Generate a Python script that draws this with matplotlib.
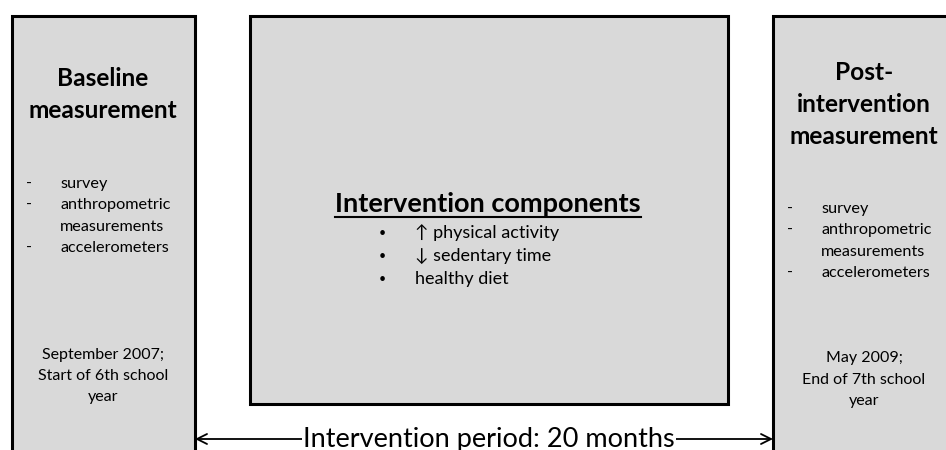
import matplotlib.pyplot as plt
from matplotlib.patches import Rectangle

plt.rcParams['font.family'] = ['Lato', 'DejaVu Sans']

# Box contents
left_title = ['Baseline', 'measurement']
right_title = ['Post-', 'intervention', 'measurement']
measures = ['survey', 'anthropometric', 'measurements', 'accelerometers']
measure_dash = [True, True, False, True]
left_when = ['September 2007;', 'Start of 6th school', 'year']
right_when = ['May 2009;', 'End of 7th school', 'year']
mid_title = 'Intervention components'
components = ['\u2191 physical activity', '\u2193 sedentary time', 'healthy diet']
period_label = 'Intervention period: 20 months'

W, H = 946, 450
fig = plt.figure(figsize=(W / 100, H / 100), dpi=100)
ax = fig.add_axes([0, 0, 1, 1])
ax.set_xlim(0, W)
ax.set_ylim(H, 0)
ax.axis('off')

grey = '#d9d9d9'
# boxes: x0, y0, x1, y1
boxes = [(12, 16, 195, 470), (250, 16, 728, 404), (773, 16, 980, 470)]
for x0, y0, x1, y1 in boxes:
    ax.add_patch(Rectangle((x0, y0), x1 - x0, y1 - y0, facecolor=grey,
                           edgecolor='black', lw=2.2))

def column(cx, ytop, lines, dy, size, bold=False):
    for i, s in enumerate(lines):
        ax.text(cx, ytop + i * dy, s, ha='center', va='center', fontsize=size,
                fontweight='bold' if bold else 'normal', color='black')

def dash_list(xd, xt, ytop, dy):
    for i, (s, d) in enumerate(zip(measures, measure_dash)):
        y = ytop + i * dy
        if d:
            ax.text(xd, y, '-', ha='left', va='center', fontsize=11.5)
        ax.text(xt, y, s, ha='left', va='center', fontsize=11.7)

# left box
column(103, 78, left_title, 32, 17.6, bold=True)
dash_list(26, 60, 184, 21.3)
column(103, 355, left_when, 21, 11.5)

# right box
column(864, 73, right_title, 31.5, 17.6, bold=True)
dash_list(787, 821, 209, 21.3)
column(864, 358, right_when, 21.5, 11.5)

# middle box
t = ax.text(488, 204, mid_title, ha='center', va='center', fontsize=19.5,
            fontweight='bold')
fig.canvas.draw()
bb = t.get_window_extent().transformed(ax.transData.inverted())
ax.plot([bb.x0, bb.x1], [217, 217], color='black', lw=1.5)
for i, s in enumerate(components):
    y = 233 + i * 23
    ax.text(382, y, '\u2022', ha='center', va='center', fontsize=9)
    ax.text(415, y, s, ha='left', va='center', fontsize=13)

# period arrow
ax.annotate('', xy=(195, 439), xytext=(773, 439),
            arrowprops=dict(arrowstyle='<->', color='black', lw=1.3,
                            shrinkA=0, shrinkB=0, mutation_scale=18))
ax.text(489, 439, period_label, ha='center', va='center', fontsize=19.5,
        bbox=dict(facecolor='white', edgecolor='none', pad=1))

fig.savefig('out.png', dpi=100)
